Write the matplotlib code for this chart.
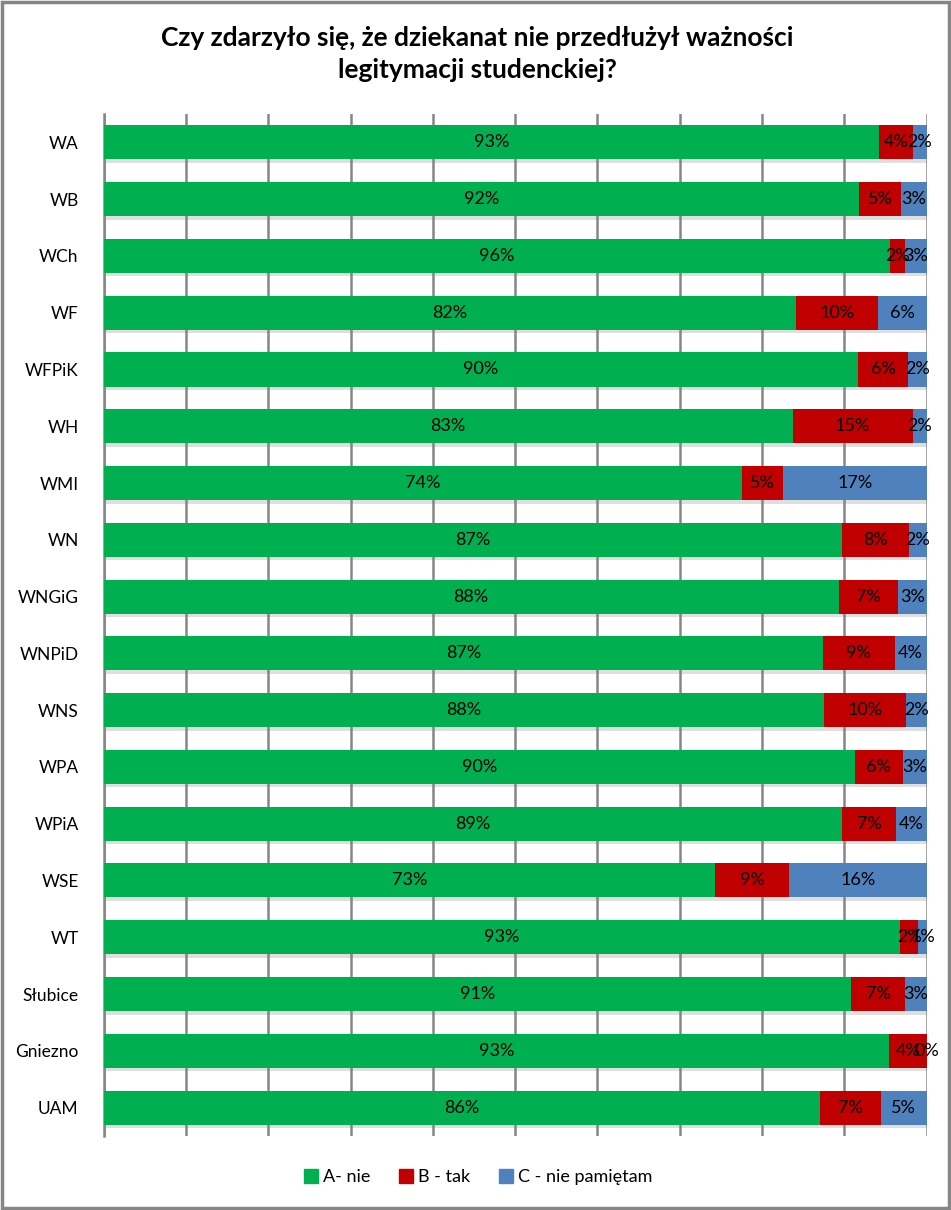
import matplotlib

matplotlib.use("Agg")
import matplotlib.pyplot as plt
import matplotlib.patheffects as pe
from matplotlib.patches import Patch
import numpy as np

# kategorie i etykiety danych (w procentach, jak na wykresie)
categories = ["WA", "WB", "WCh", "WF", "WFPiK", "WH", "WMI", "WN", "WNGiG",
              "WNPiD", "WNS", "WPA", "WPiA", "WSE", "WT", "Słubice", "Gniezno", "UAM"]
label_a = [93, 92, 96, 82, 90, 83, 74, 87, 88, 87, 88, 90, 89, 73, 93, 91, 93, 86]
label_b = [4, 5, 2, 10, 6, 15, 5, 8, 7, 9, 10, 6, 7, 9, 2, 7, 4, 7]
label_c = [2, 3, 3, 6, 2, 2, 17, 2, 3, 4, 2, 3, 4, 16, 1, 3, 0, 5]

share_a = [94.2, 91.8, 95.5, 84.1, 91.7, 83.7, 77.6, 89.7, 89.3,
           87.4, 87.5, 91.3, 89.7, 74.3, 96.8, 90.8, 95.4, 87.0]
share_b = [4.1, 5.1, 1.9, 10.0, 6.0, 14.6, 5.0, 8.1, 7.2,
           8.7, 10.0, 5.8, 6.6, 9.0, 2.2, 6.6, 4.6, 7.4]
share_c = [1.7, 3.1, 2.6, 5.9, 2.3, 1.7, 17.4, 2.2, 3.5,
           3.9, 2.5, 2.9, 3.7, 16.7, 1.0, 2.6, 0.0, 5.6]

series_labels = ["A- nie", "B - tak", "C - nie pamiętam"]
colors = ["#00B050", "#C00000", "#4F81BD"]

plt.rcParams["font.family"] = ["Lato", "DejaVu Sans"]

fig = plt.figure(figsize=(9.51, 12.10), dpi=100)
ax = fig.add_axes([0.1090, 0.0612, 0.8654, 0.8446])

shares = np.array([share_a, share_b, share_c], dtype=float)
shares = shares / shares.sum(axis=0)
labels = [label_a, label_b, label_c]
y = np.arange(len(categories))
left = np.zeros(len(categories))

shadow = [pe.SimplePatchShadow(offset=(1.5, -2.5), shadow_rgbFace="#808080", alpha=0.25),
          pe.Normal()]

for i in range(3):
    ax.barh(y, shares[i], left=left, height=0.6, color=colors[i],
            zorder=3, path_effects=shadow)
    for j in range(len(categories)):
        ax.text(left[j] + shares[i][j] / 2, y[j], f"{labels[i][j]}%",
                ha="center", va="center", fontsize=13, color="black", zorder=4)
    left += shares[i]

ax.set_xlim(0, 1)
ax.set_ylim(len(categories) - 0.5, -0.5)
ax.set_xticks(np.linspace(0, 1, 11))
ax.set_xticklabels([])
ax.tick_params(axis="x", length=0)
ax.tick_params(axis="y", length=0, pad=18, labelsize=12.5)
ax.set_yticks(y)
ax.set_yticklabels(categories)
ax.grid(True, axis="x", color="#868686", linewidth=1.8, zorder=0)
for side in ["top", "right", "bottom"]:
    ax.spines[side].set_visible(False)
ax.spines["left"].set_color("#868686")
ax.spines["left"].set_linewidth(1.8)

fig.text(0.502, 0.955, "Czy zdarzyło się, że dziekanat nie przedłużył ważności\nlegitymacji studenckiej?",
         ha="center", va="center", fontsize=19, fontweight="bold", linespacing=1.4)

handles = [Patch(color=c, label=l) for c, l in zip(colors, series_labels)]
fig.legend(handles=handles, loc="center", bbox_to_anchor=(0.503, 0.027), ncol=3,
           frameon=False, fontsize=13, handlelength=0.75, handleheight=0.75,
           handletextpad=0.3, columnspacing=1.6)

# ramka obszaru wykresu
fig.patches.append(plt.Rectangle((0.002, 0.002), 0.996, 0.996, transform=fig.transFigure,
                                 fill=False, edgecolor="#868686", linewidth=2.5))

fig.savefig("out.png", dpi=100)
